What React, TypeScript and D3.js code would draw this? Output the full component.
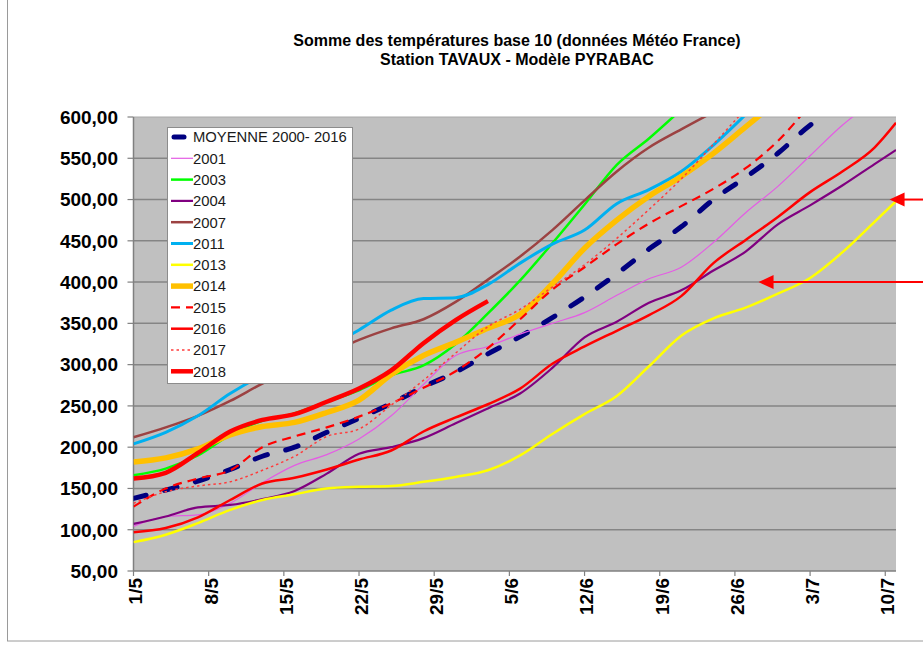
import * as d3 from "d3";

// day index from 1/5 (0) to 11/7 (71), values read every 3 days
const days = [0, 3, 6, 9, 12, 15, 18, 21, 24, 27, 30, 33, 36, 39, 42, 45, 48, 51, 54, 57, 60, 63, 66, 69, 71];
const xTickDays = [0, 7, 14, 21, 28, 35, 42, 49, 56, 63, 70];
const xTickLabels = ["1/5", "8/5", "15/5", "22/5", "29/5", "5/6", "12/6", "19/6", "26/6", "3/7", "10/7"];
const yTicks = [50, 100, 150, 200, 250, 300, 350, 400, 450, 500, 550, 600];

const N = null;
const moyenne = [138, 148, 159, 173, 189, 200, 218, 235, 253, 273, 291, 313, 334, 357, 382, 410, 440, 467, 500, 527, 556, 590, 615, N, N];
const y2001 = [104, 116, 118, 132, 157, 178, 191, 210, 238, 276, 311, 322, 337, 350, 363, 384, 404, 418, 448, 484, 516, 553, 590, 620, N];
const y2003 = [166, 174, 190, 215, 232, 241, 255, 269, 287, 299, 325, 362, 402, 447, 494, 542, 574, 609, N, N, N, N, N, N, N];
const y2004 = [107, 116, 127, 130, 137, 147, 168, 192, 200, 211, 229, 247, 265, 296, 333, 352, 375, 390, 414, 437, 470, 493, 517, 543, 560];
const y2007 = [212, 224, 238, 256, 277, 295, 312, 330, 344, 355, 376, 403, 431, 463, 499, 534, 563, 585, 606, N, N, N, N, N, N];
const y2011 = [204, 218, 238, 265, 287, 304, 321, 342, 366, 380, 381, 397, 423, 446, 463, 495, 512, 534, 566, 603, N, N, N, N, N];
const y2013 = [85, 94, 108, 124, 136, 143, 150, 152, 153, 158, 164, 172, 190, 216, 240, 262, 298, 335, 356, 369, 386, 405, 436, 473, 498];
const y2014 = [182, 187, 198, 215, 225, 230, 242, 257, 288, 311, 327, 344, 361, 398, 441, 475, 504, 528, 556, 588, 620, N, N, N, N];
const y2015 = [128, 150, 162, 172, 200, 213, 224, 237, 253, 272, 292, 320, 355, 391, 418, 446, 471, 492, 513, 538, 571, 615, N, N, N];
const y2016 = [97, 102, 115, 136, 156, 163, 173, 185, 196, 219, 236, 252, 271, 301, 322, 341, 360, 383, 423, 451, 479, 509, 534, 563, 593];
const y2017 = [132, 146, 153, 158, 172, 189, 213, 222, 251, 281, 314, 346, 367, 394, 421, 453, 488, 525, 567, 610, N, N, N, N, N];
const y2018 = [162, 169, 193, 219, 233, 240, 255, 271, 293, 326, 354, 377, N, N, N, N, N, N, N, N, N, N, N, N, N];

// red arrows drawn on the right (day of the tip, value)
const arrows = [
    { day: 70.4, value: 500 },
    { day: 58.2, value: 400 },
];

const series = [
    { name: "MOYENNE 2000- 2016", values: moyenne, color: "#000080", width: 5, dash: "13,19", cap: "round" },
    { name: "2001", values: y2001, color: "#e45ce4", width: 1.2 },
    { name: "2003", values: y2003, color: "#00ff00", width: 2.5 },
    { name: "2004", values: y2004, color: "#800080", width: 2.2 },
    { name: "2007", values: y2007, color: "#9c4242", width: 2.5 },
    { name: "2011", values: y2011, color: "#00b0f0", width: 3 },
    { name: "2013", values: y2013, color: "#ffff00", width: 2.5 },
    { name: "2014", values: y2014, color: "#ffc000", width: 5.5 },
    { name: "2015", values: y2015, color: "#ff0000", width: 2.2, dash: "9,6" },
    { name: "2016", values: y2016, color: "#ff0000", width: 2.5 },
    { name: "2017", values: y2017, color: "#ff3c3c", width: 1.5, dash: "2.5,3" },
    { name: "2018", values: y2018, color: "#ff0000", width: 4.5 },
];

const font = "'Liberation Sans', Arial, sans-serif";

export default function App() {
    const width = 923;
    const height = 671;
    const plot = { left: 133.5, right: 896, top: 117, bottom: 571 };

    const x = d3.scaleLinear().domain([0, 71]).range([plot.left, plot.right]);
    const y = d3.scaleLinear().domain([50, 600]).range([plot.bottom, plot.top]);

    const line = d3
        .line<number | null>()
        .defined(v => v != null)
        .x((_, i) => x(days[i]))
        .y(v => y(v as number))
        .curve(d3.curveMonotoneX);

    const fmt = (v: number) => v.toFixed(2).replace(".", ",");

    const legend = { x: 167.5, y: 127.5, w: 185, h: 256, first: 137, step: 21.3 };

    return (
        <svg width={width} height={height} style={{ position: "absolute", left: 0, top: 0, background: "#fff" }}>
            <defs>
                <clipPath id="plot-clip">
                    <rect x={plot.left} y={plot.top} width={plot.right - plot.left} height={plot.bottom - plot.top} />
                </clipPath>
            </defs>

            {/* outer frame */}
            <rect x={7.5} y={-2} width={width + 10} height={643} fill="none" stroke="#9a9a9a" strokeWidth={1} />

            {/* title */}
            <g fontFamily={font} fontWeight="bold" fontSize={16} textAnchor="middle" fill="#000">
                <text x={517} y={46}>Somme des températures base 10 (données Météo France)</text>
                <text x={517} y={65}>Station TAVAUX - Modèle PYRABAC</text>
            </g>

            {/* plot area */}
            <rect x={plot.left} y={plot.top} width={plot.right - plot.left} height={plot.bottom - plot.top} fill="#c0c0c0" />
            <line x1={plot.left} x2={plot.right} y1={plot.top} y2={plot.top} stroke="#a8a8a8" strokeWidth={1} />
            {yTicks.slice(1, -1).map(t => (
                <line key={`grid-${t}`} x1={plot.left} x2={plot.right} y1={y(t)} y2={y(t)} stroke="#858585" strokeWidth={1.5} />
            ))}

            {/* axes */}
            <line x1={plot.left} x2={plot.left} y1={plot.top} y2={plot.bottom} stroke="#808080" strokeWidth={1.5} />
            <line x1={plot.left} x2={plot.right} y1={plot.bottom} y2={plot.bottom} stroke="#808080" strokeWidth={1.5} />
            {yTicks.map(t => (
                <g key={`yt-${t}`}>
                    <line x1={plot.left - 6} x2={plot.left} y1={y(t)} y2={y(t)} stroke="#808080" strokeWidth={1.2} />
                    <text x={118} y={y(t)} dy="0.36em" textAnchor="end" fontFamily={font} fontWeight="bold" fontSize={19} fill="#000">
                        {fmt(t)}
                    </text>
                </g>
            ))}
            {xTickDays.map((d, i) => (
                <g key={`xt-${d}`}>
                    <line x1={x(d)} x2={x(d)} y1={plot.bottom} y2={plot.bottom + 5} stroke="#808080" strokeWidth={1.2} />
                    <text
                        transform={`translate(${x(d) + 2}, ${plot.bottom + 7}) rotate(-90)`}
                        dy="0.36em"
                        textAnchor="end"
                        fontFamily={font}
                        fontWeight="bold"
                        fontSize={19}
                        fill="#000"
                    >
                        {xTickLabels[i]}
                    </text>
                </g>
            ))}

            {/* series */}
            <g clipPath="url(#plot-clip)" fill="none">
                {series.map(s => (
                    <path
                        key={s.name}
                        d={line(s.values) || ""}
                        stroke={s.color}
                        strokeWidth={s.width}
                        strokeDasharray={s.dash}
                        strokeLinecap={(s.cap as any) || "butt"}
                        strokeLinejoin="round"
                    />
                ))}
            </g>

            {/* legend */}
            <rect x={legend.x} y={legend.y} width={legend.w} height={legend.h} fill="#fff" stroke="#8c8c8c" strokeWidth={1} />
            {series.map((s, i) => {
                const ly = legend.first + i * legend.step;
                return (
                    <g key={`lg-${s.name}`}>
                        <line
                            x1={s.cap ? 174 : 171}
                            x2={s.cap ? 184 : 193}
                            y1={ly}
                            y2={ly}
                            stroke={s.color}
                            strokeWidth={s.width}
                            strokeDasharray={s.cap ? undefined : s.dash}
                            strokeLinecap={(s.cap as any) || "butt"}
                        />
                        <text x={193} y={ly} dy="0.36em" fontFamily={font} fontSize={14.8} fill="#1a1a1a">
                            {s.name}
                        </text>
                    </g>
                );
            })}

            {/* arrows */}
            {arrows.map((a, i) => {
                const tx = x(a.day);
                const ty = y(a.value);
                return (
                    <g key={`arrow-${i}`} fill="#ff0000" stroke="#ff0000">
                        <line x1={tx + 12} x2={width + 5} y1={ty} y2={ty} strokeWidth={2} />
                        <path d={`M${tx},${ty} L${tx + 15},${ty - 7} L${tx + 15},${ty + 7} Z`} stroke="none" />
                    </g>
                );
            })}
        </svg>
    );
}
